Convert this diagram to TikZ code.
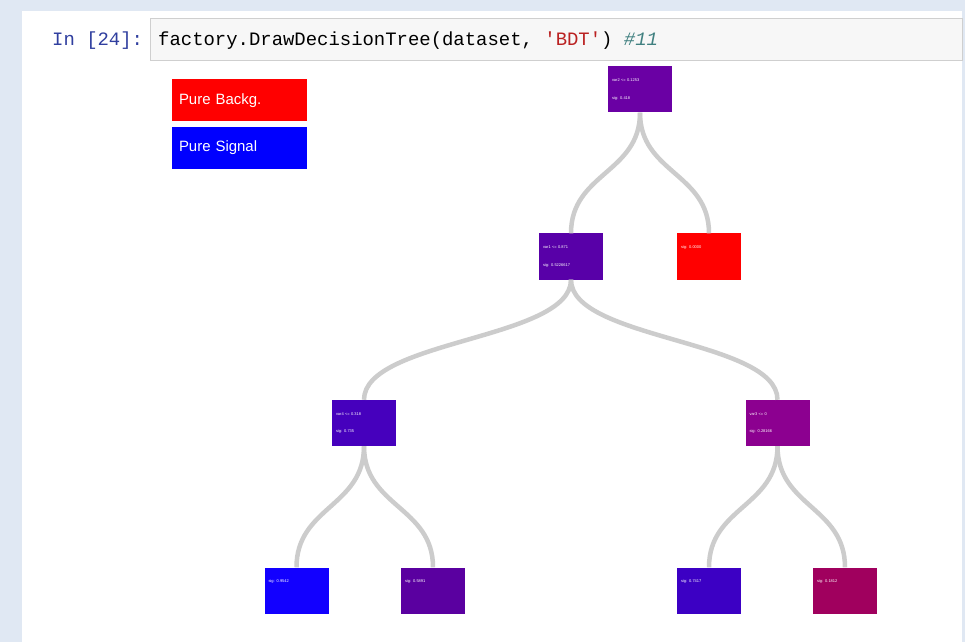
\documentclass[tikz,border=0pt]{standalone}
\usepackage{fontspec}
\setmainfont{Liberation Sans}
\setmonofont{Liberation Mono}
\usetikzlibrary{positioning,calc}
\definecolor{pagebg}{RGB}{224,232,243}
\definecolor{cellbg}{RGB}{247,247,247}
\definecolor{cellrule}{RGB}{207,207,207}
\definecolor{prompt}{RGB}{48,63,159}
\definecolor{strcol}{RGB}{186,33,33}
\definecolor{cmtcol}{RGB}{64,128,128}
\definecolor{linkcol}{RGB}{204,204,204}
% node fills, from pure background (red) to pure signal (blue)
\definecolor{cRoot}{RGB}{106,0,164}
\definecolor{cA}{RGB}{88,0,168}
\definecolor{cB}{RGB}{255,0,0}
\definecolor{cAA}{RGB}{70,0,189}
\definecolor{cAB}{RGB}{140,0,144}
\definecolor{cAAA}{RGB}{18,0,255}
\definecolor{cAAB}{RGB}{90,0,160}
\definecolor{cABA}{RGB}{60,0,196}
\definecolor{cABB}{RGB}{160,0,94}
\tikzset{
  legend/.style={minimum width=135bp,minimum height=42bp,inner sep=0pt,text=white,
                 font=\fontsize{15}{18}\selectfont,text width=121bp,align=left},
  tnode/.style={minimum width=64bp,minimum height=46bp,inner sep=0pt,text=white,
                text width=56bp,align=left,font=\fontsize{4}{18}\selectfont},
  link/.style={draw=linkcol,line width=4.5bp},
  code/.style={font=\fontsize{19}{22}\selectfont\ttfamily,anchor=base west,inner sep=0pt},
}
\newcommand{\branch}[2]{%
  \coordinate (mid) at ($(#1.south)!.5!(#2.north)$);
  \draw[link] (#1.south) .. controls (#1.south |- mid) and (#2.north |- mid) .. (#2.north);}

\begin{document}
\begin{tikzpicture}[x=1bp,y=-1bp]
  \useasboundingbox (0,0) rectangle (965,642);
  % ---- page and notebook cell ----
  \fill[pagebg] (0,0) rectangle (965,642);
  \fill[white] (22,11) rectangle (962,642);
  \filldraw[fill=cellbg,draw=cellrule] (150,18) rectangle (962,60);
  \node[code,text=prompt] (prompt) at (52,46) {In [24]:};
  \node[code] (call) at (158,46) {factory.DrawDecisionTree(dataset, \textcolor{strcol}{'BDT'}) \textcolor{cmtcol}{\itshape\#11}};
  % ---- legend ----
  \node[legend,fill=red] (bkg) at (239.5,100.5) {Pure Backg.};
  \node[legend,fill=blue] (sig) at (239.5,148) {Pure Signal};
  % ---- tree ----
  \node[tnode,fill=cRoot] (root) at (640,89.5) {var2 <= 0.1253\\sig: 0.418};
  \node[tnode,fill=cA] (nA) at (571,256.5) {var1 <= 0.871\\sig: 0.5226617};
  \node[tnode,fill=cB] (nB) at (709,256.5) {sig: 0.0000\\\mbox{}};
  \node[tnode,fill=cAA] (nAA) at (364,423) {var4 <= 0.318\\sig: 0.735};
  \node[tnode,fill=cAB] (nAB) at (777.5,423) {var3 <= 0\\sig: 0.28166};
  \node[tnode,fill=cAAA] (nAAA) at (296.5,590.5) {sig: 0.9542\\\mbox{}};
  \node[tnode,fill=cAAB] (nAAB) at (433,590.5) {sig: 0.5891\\\mbox{}};
  \node[tnode,fill=cABA] (nABA) at (709,590.5) {sig: 0.7417\\\mbox{}};
  \node[tnode,fill=cABB] (nABB) at (845,590.5) {sig: 0.1812\\\mbox{}};
  % ---- branches ----
  \branch{root}{nA}
  \branch{root}{nB}
  \branch{nA}{nAA}
  \branch{nA}{nAB}
  \branch{nAA}{nAAA}
  \branch{nAA}{nAAB}
  \branch{nAB}{nABA}
  \branch{nAB}{nABB}
\end{tikzpicture}
\end{document}
